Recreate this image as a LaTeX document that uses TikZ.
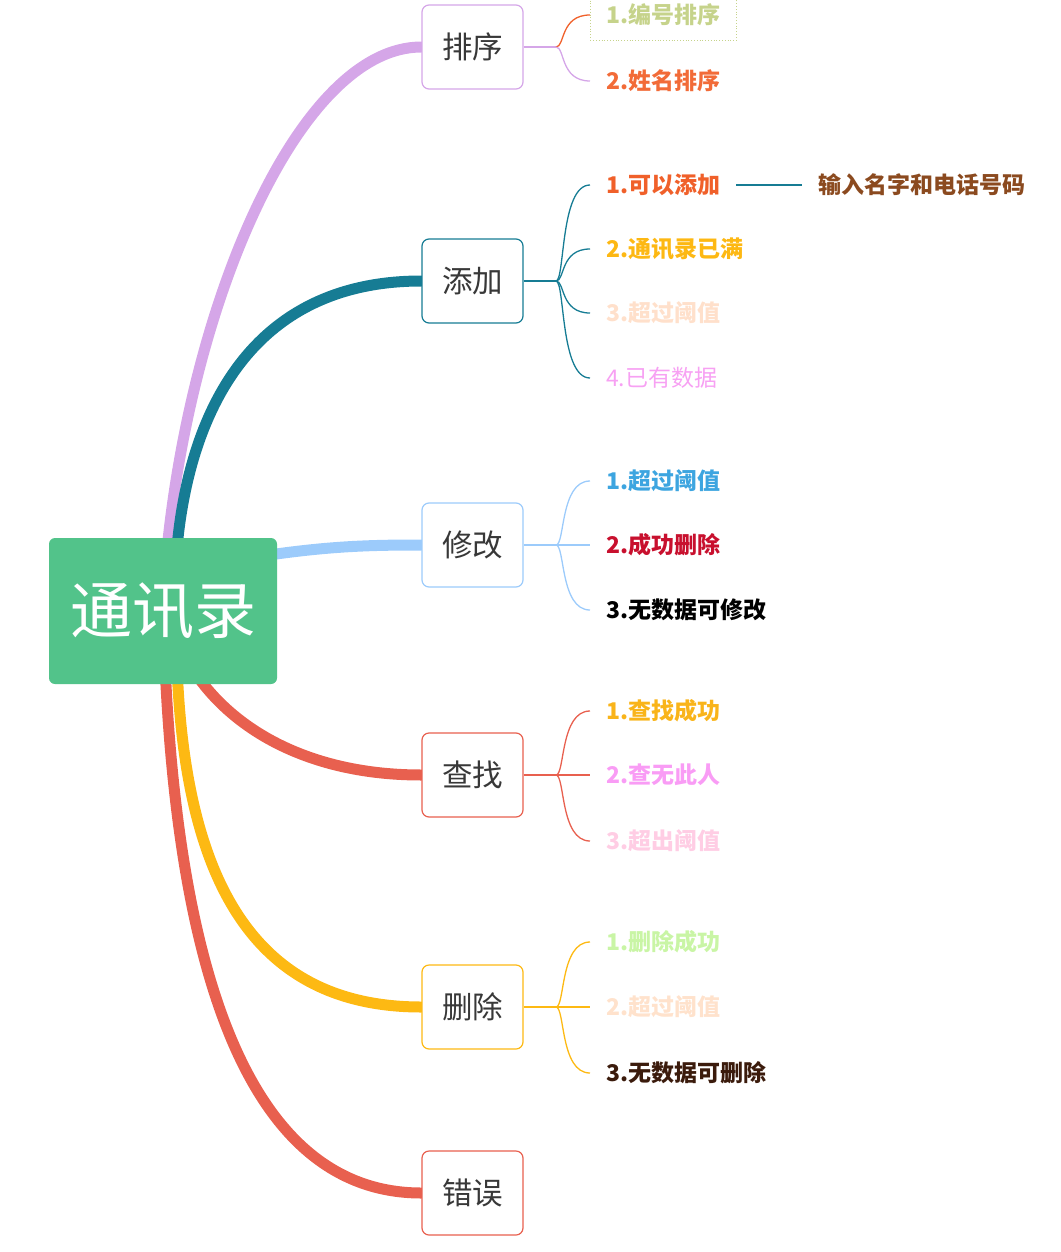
\documentclass[tikz,border=0pt]{standalone}
\usepackage{fontspec}
\newfontfamily\cjk{Noto Sans CJK SC}
\usetikzlibrary{backgrounds}
\definecolor{cPurple}{HTML}{D5A6E8}
\definecolor{cTeal}{HTML}{167C94}
\definecolor{cBlue}{HTML}{9CCBFB}
\definecolor{cRed}{HTML}{E8604F}
\definecolor{cYellow}{HTML}{FDB913}
\definecolor{cGreen}{HTML}{52C38A}
\definecolor{cOrange}{HTML}{F0602A}
\definecolor{txtgray}{HTML}{383838}
\definecolor{tS1}{HTML}{C6D38B}
\definecolor{tS2}{HTML}{F26B38}
\definecolor{tA1}{HTML}{F0602A}
\definecolor{tA1b}{HTML}{8B4A1F}
\definecolor{tA2}{HTML}{FDB813}
\definecolor{tA3}{HTML}{FFE0CB}
\definecolor{tA4}{HTML}{F7A1F3}
\definecolor{tM1}{HTML}{3DA5E0}
\definecolor{tM2}{HTML}{C8102E}
\definecolor{tM3}{HTML}{000000}
\definecolor{tF1}{HTML}{F9B41A}
\definecolor{tF2}{HTML}{F99CF5}
\definecolor{tF3}{HTML}{FFCDE4}
\definecolor{tD1}{HTML}{C9F5A5}
\definecolor{tD2}{HTML}{FFE2CC}
\definecolor{tD3}{HTML}{3B1B0C}
\begin{document}
\begin{tikzpicture}[x=1pt,y=-1pt,
  branch/.style={line width=11pt, line cap=round},
  sub/.style={draw, rounded corners=7pt, fill=white, line width=1.2pt,
    minimum width=101pt, minimum height=84pt, inner sep=0pt,
    font=\cjk\fontsize{30.5}{30.5}\selectfont, text=txtgray},
  leaf/.style={anchor=west, inner xsep=16pt, inner ysep=0pt,
    font=\cjk\bfseries\fontsize{23}{23}\selectfont},
  leafthin/.style={anchor=west, inner xsep=16pt, inner ysep=0pt,
    font=\cjk\fontsize{23}{23}\selectfont},
  conn/.style={line width=1.3pt}]
\useasboundingbox (0,0) rectangle (1060,1252);

% root
\node[fill=cGreen, rounded corners=6pt, minimum width=228pt, minimum height=146pt,
  inner sep=0pt, text=white, font=\cjk\fontsize{62}{62}\selectfont] (root) at (163,611) {\raisebox{-5pt}{通讯录}};

% main topics
\node[sub, draw=cPurple] (sort) at (472.5,47) {排序};
\node[sub, draw=cTeal] (add) at (472.5,281) {添加};
\node[sub, draw=cBlue] (mod) at (472.5,545) {修改};
\node[sub, draw=cRed] (find) at (472.5,775) {查找};
\node[sub, draw=cYellow] (del) at (472.5,1007) {删除};
\node[sub, draw=cRed] (err) at (472.5,1193) {错误};

% leaves
\node[leaf, text=tS1, draw=tS1, dotted, line width=0.8pt, minimum height=50pt] (s1) at (590,15) {1.编号排序};
\node[leaf, text=tS2] (s2) at (590,81) {2.姓名排序};

\node[leaf, text=tA1] (a1) at (590,185) {1.可以添加};
\node[leaf, text=tA1b] (a1b) at (802,185) {输入名字和电话号码};
\node[leaf, text=tA2] (a2) at (590,249) {2.通讯录已满};
\node[leaf, text=tA3] (a3) at (590,313) {3.超过阈值};
\node[leafthin, text=tA4] (a4) at (590,378) {4.已有数据};

\node[leaf, text=tM1] (m1) at (590,481) {1.超过阈值};
\node[leaf, text=tM2] (m2) at (590,545) {2.成功删除};
\node[leaf, text=tM3] (m3) at (590,610) {3.无数据可修改};

\node[leaf, text=tF1] (f1) at (590,711) {1.查找成功};
\node[leaf, text=tF2] (f2) at (590,775) {2.查无此人};
\node[leaf, text=tF3] (f3) at (590,841) {3.超出阈值};

\node[leaf, text=tD1] (d1) at (590,942) {1.删除成功};
\node[leaf, text=tD2] (d2) at (590,1007) {2.超过阈值};
\node[leaf, text=tD3] (d3) at (590,1073) {3.无数据可删除};

% junctions and branch starts
\coordinate (jS) at (556,47);
\coordinate (jA) at (556,281);
\coordinate (jM) at (556,545);
\coordinate (jF) at (556,775);
\coordinate (jD) at (556,1007);
\coordinate (b1) at (166,560);
\coordinate (b2) at (176,560);
\coordinate (b3) at (262,556);
\coordinate (b4) at (190,665);
\coordinate (b5) at (177,665);
\coordinate (b6) at (165,665);

\begin{scope}[on background layer]
\draw[branch, cPurple] (b1) .. controls (190,300) and (300,47) .. (sort.west);
\draw[branch, cTeal] (b2) .. controls (185,430) and (240,281) .. (add.west);
\draw[branch, cBlue] (b3) .. controls (330,546) and (370,545) .. (mod.west);
\draw[branch, cRed] (b4) .. controls (230,730) and (310,775) .. (find.west);
\draw[branch, cYellow] (b5) .. controls (185,890) and (260,1007) .. (del.west);
\draw[branch, cRed] (b6) .. controls (180,1000) and (260,1193) .. (err.west);
\end{scope}

% connectors: sort
\draw[conn, cPurple] (sort.east) -- (jS);
\draw[conn, cOrange] (jS) .. controls (565,47) and (560,15) .. (s1.west);
\draw[conn, cPurple] (jS) .. controls (565,47) and (560,81) .. (s2.west);
% add
\draw[conn, cTeal] (add.east) -- (jA);
\draw[conn, cTeal] (jA) .. controls (565,281) and (560,185) .. (a1.west);
\draw[conn, cTeal] (jA) .. controls (565,281) and (560,249) .. (a2.west);
\draw[conn, cTeal] (jA) .. controls (565,281) and (560,313) .. (a3.west);
\draw[conn, cTeal] (jA) .. controls (565,281) and (560,378) .. (a4.west);
\draw[conn, cTeal] (a1.east) -- (a1b.west);
% modify
\draw[conn, cBlue] (mod.east) -- (jM);
\draw[conn, cBlue] (jM) .. controls (565,545) and (560,481) .. (m1.west);
\draw[conn, cBlue] (jM) -- (m2.west);
\draw[conn, cBlue] (jM) .. controls (565,545) and (560,610) .. (m3.west);
% find
\draw[conn, cRed] (find.east) -- (jF);
\draw[conn, cRed] (jF) .. controls (565,775) and (560,711) .. (f1.west);
\draw[conn, cRed] (jF) -- (f2.west);
\draw[conn, cRed] (jF) .. controls (565,775) and (560,841) .. (f3.west);
% delete
\draw[conn, cYellow] (del.east) -- (jD);
\draw[conn, cYellow] (jD) .. controls (565,1007) and (560,942) .. (d1.west);
\draw[conn, cYellow] (jD) -- (d2.west);
\draw[conn, cYellow] (jD) .. controls (565,1007) and (560,1073) .. (d3.west);
\end{tikzpicture}
\end{document}
